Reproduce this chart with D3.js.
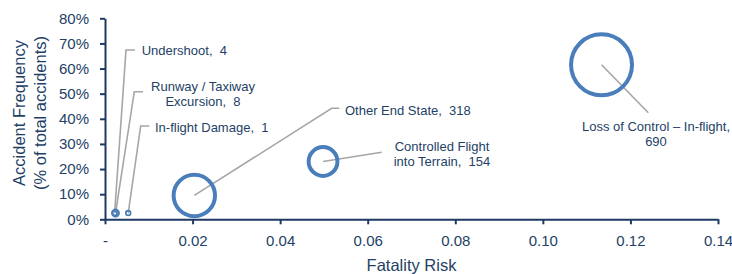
<!DOCTYPE html>
<html>
<head>
<meta charset="utf-8">
<script src="https://cdn.jsdelivr.net/npm/d3@7"></script>
<style>
  body { margin: 0; background: #fff; }
  svg { font-family: "Liberation Sans", Arial, sans-serif; display: block; }
  .lbl { white-space: pre; }
</style>
</head>
<body>
<svg id="chart"></svg>
<script>
const width = 732;
const height = 274;
const svg = d3.select("svg#chart");
svg.attr("width", width).attr("height", height);

// accident categories (bubble chart)
const categories = ["Undershoot", "Runway / Taxiway Excursion", "In-flight Damage",
  "Other End State", "Controlled Flight into Terrain", "Loss of Control \u2013 In-flight"];
const fatalityRisk = [0.0022, 0.0024, 0.0053, 0.0204, 0.0498, 0.1134];
const accidentFreq = [0.025, 0.025, 0.025, 0.095, 0.23, 0.615];
const accidentCount = [4, 8, 1, 318, 154, 690];

const xTicks = [0, 0.02, 0.04, 0.06, 0.08, 0.10, 0.12, 0.14];
const yTicks = [0, 0.1, 0.2, 0.3, 0.4, 0.5, 0.6, 0.7, 0.8];

// label text lines per category
const labelLines = [
  ["Undershoot,  4"],
  ["Runway / Taxiway", "Excursion,  8"],
  ["In-flight Damage,  1"],
  ["Other End State,  318"],
  ["Controlled Flight", "into Terrain,  154"],
  ["Loss of Control \u2013 In-flight,", "690"]
];

// label layout: text position + leader elbow (pixels)
const labelLayout = [
  {x: 141.7, y: 50, anchor: "start", elbow: [[135, 50], [126, 50]]},
  {x: 203, y: 86, anchor: "middle", elbow: [[143, 91.7], [134.3, 91.7]]},
  {x: 155, y: 127.5, anchor: "start", elbow: [[149.3, 126], [140.7, 126]]},
  {x: 345, y: 110, anchor: "start", elbow: [[339.3, 108.3], [331.7, 108.3]]},
  {x: 442, y: 146.5, anchor: "middle", elbow: [[381.7, 152.3]]},
  {x: 656, y: 126.5, anchor: "middle", elbow: [[648.3, 112.7]]}
];

const axisColor = "#1f3864";
const textColor = "#243f66";
const bubbleColor = "#4a7ebb";
const leaderColor = "#a6a6a6";

const x = d3.scaleLinear().domain([0, 0.14]).range([105, 718]);
const y = d3.scaleLinear().domain([0, 0.8]).range([219.3, 18.3]);
const r = d3.scaleSqrt().domain([0, 690]).range([0, 30.5]);

const data = categories.map((c, i) => ({
  name: c, risk: fatalityRisk[i], freq: accidentFreq[i], count: accidentCount[i],
  lines: labelLines[i], layout: labelLayout[i]
}));

// leader lines
svg.append("g").attr("id", "leaders")
  .selectAll("polyline")
  .data(data)
  .enter()
  .append("polyline")
    .attr("points", d => d.layout.elbow.concat([[x(d.risk), y(d.freq)]]).map(p => p.join(",")).join(" "))
    .attr("fill", "none")
    .attr("stroke", leaderColor)
    .attr("stroke-width", 1.6);

// bubbles
svg.append("g").attr("id", "bubbles")
  .selectAll("circle")
  .data(data)
  .enter()
  .append("circle")
    .attr("cx", d => x(d.risk))
    .attr("cy", d => y(d.freq))
    .attr("r", d => Math.max(2.4, r(d.count)))
    .attr("fill", "none")
    .attr("stroke", bubbleColor)
    .attr("stroke-width", d => Math.min(4, Math.max(2.4, r(d.count)) * 0.7));

// labels
let labels = svg.append("g").attr("id", "labels")
  .selectAll("text")
  .data(data)
  .enter()
  .append("text")
    .attr("class", "lbl")
    .attr("x", d => d.layout.x)
    .attr("y", d => d.layout.y)
    .attr("text-anchor", d => d.layout.anchor)
    .attr("fill", textColor)
    .style("font-size", "13px");

labels.selectAll("tspan")
  .data(d => d.lines.map(t => ({t: t, x: d.layout.x})))
  .enter()
  .append("tspan")
    .attr("x", t => t.x)
    .attr("dy", (t, i) => i == 0 ? "0.35em" : "15px")
    .text(t => t.t);

// axes
let xAxis = svg.append("g")
  .attr("transform", "translate(0," + y(0) + ")")
  .call(d3.axisBottom(x).tickValues(xTicks).tickSize(5).tickPadding(11).tickSizeOuter(0)
    .tickFormat(d => d == 0 ? "-" : d3.format(".2f")(d)));

let yAxis = svg.append("g")
  .attr("transform", "translate(" + x(0) + ",0)")
  .call(d3.axisLeft(y).tickValues(yTicks).tickSize(5).tickPadding(11).tickSizeOuter(0)
    .tickFormat(d3.format(".0%")));

[xAxis, yAxis].forEach(function(a) {
  a.select(".domain").attr("stroke", axisColor).attr("stroke-width", 2);
  a.selectAll(".tick line").attr("stroke", axisColor).attr("stroke-width", 2);
  a.selectAll(".tick text").attr("fill", textColor)
    .style("font-size", "15px").style("font-family", "'Liberation Sans', Arial, sans-serif");
});

// axis titles
svg.append("text")
  .text("Fatality Risk")
  .attr("x", (x.range()[0] + x.range()[1]) / 2)
  .attr("y", 270.7)
  .attr("text-anchor", "middle")
  .attr("fill", textColor)
  .style("font-size", "16.5px");

let yGroup = svg.append("g")
  .attr("transform", "translate(0," + 113 + ")");

yGroup.append("text")
  .attr("transform", "rotate(-90)")
  .attr("text-anchor", "middle")
  .attr("fill", textColor)
  .style("font-size", "16.5px")
  .selectAll("tspan")
  .data(["Accident Frequency", "(% of total accidents)"])
  .enter()
  .append("tspan")
    .attr("x", 0)
    .attr("y", (d, i) => i == 0 ? 25 : 46)
    .text(d => d);
</script>
</body>
</html>
